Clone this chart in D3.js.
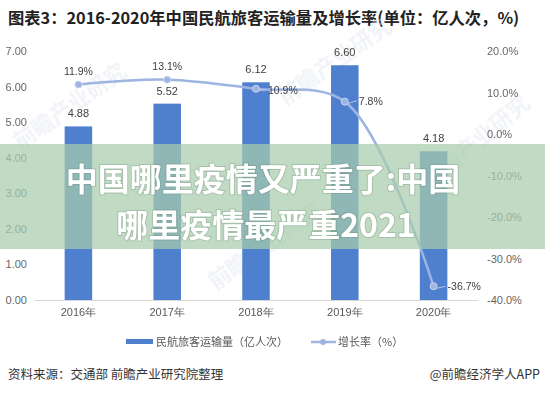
<!DOCTYPE html>
<html>
<head>
<meta charset="utf-8">
<script src="https://cdn.jsdelivr.net/npm/d3@7"></script>
<style>
  body { margin: 0; background: #fff; }
  svg { display: block; font-family: "Noto Sans CJK SC", "Noto Sans", sans-serif; }
</style>
</head>
<body>
<div class="canva"></div>
<script>
const years = ["2016年", "2017年", "2018年", "2019年", "2020年"];
const passengers = [4.88, 5.52, 6.12, 6.60, 4.18];
const growth = [11.9, 13.1, 10.9, 7.8, -36.7];
const leftTicks = [0, 1, 2, 3, 4, 5, 6, 7];
const rightTicks = [-40, -30, -20, -10, 0, 10, 20];

const WIDTH = 545, HEIGHT = 394;
const PLOT = { LEFT: 34, RIGHT: 478, TOP: 51, BOTTOM: 300 };

const svg = d3.select(".canva").append("svg")
    .attr("width", WIDTH)
    .attr("height", HEIGHT);

// title
svg.append("text")
    .attr("x", 8).attr("y", 24)
    .attr("font-size", 16.3).attr("font-weight", "bold")
    .attr("fill", "#222")
    .text("图表3：2016-2020年中国民航旅客运输量及增长率(单位：亿人次，%)");

const x = d3.scaleBand().domain(years).range([PLOT.LEFT, PLOT.RIGHT]).paddingInner(0.69).paddingOuter(0.345);
const yL = d3.scaleLinear().domain([0, 7]).range([PLOT.BOTTOM, PLOT.TOP]);
const yR = d3.scaleLinear().domain([-40, 20]).range([PLOT.BOTTOM, PLOT.TOP]);

// faint watermarks
const wm = svg.append("g").attr("fill", "#dfe5ee").attr("opacity", 0.45)
    .attr("font-size", 22).attr("font-weight", "bold");
[[215, 290, -35], [285, 105, -35], [430, 190, -40], [20, 150, -35]].forEach(d => {
  wm.append("text").attr("transform", `translate(${d[0]},${d[1]}) rotate(${d[2]})`).text("前瞻产业研究");
});

// left axis
const axL = svg.append("g").attr("transform", `translate(${PLOT.LEFT},0)`)
    .call(d3.axisLeft(yL).tickValues(leftTicks).tickFormat(d3.format(".2f")).tickSize(0).tickPadding(7));
axL.select(".domain").remove();
axL.selectAll("text").attr("font-size", 11).attr("fill", "#666").attr("font-family", "Liberation Sans, sans-serif");

// right axis
const axR = svg.append("g").attr("transform", `translate(${PLOT.RIGHT + 9},0)`)
    .call(d3.axisRight(yR).tickValues(rightTicks).tickFormat(d => d.toFixed(1) + "%").tickSize(0).tickPadding(0));
axR.select(".domain").remove();
axR.selectAll("text").attr("font-size", 11).attr("fill", "#666").attr("font-family", "Liberation Sans, sans-serif");

// bars
svg.append("g").selectAll("rect").data(passengers).enter().append("rect")
    .attr("x", (d, i) => x(years[i]))
    .attr("y", d => yL(d))
    .attr("width", x.bandwidth())
    .attr("height", d => yL(0) - yL(d))
    .attr("fill", "#4f80d0");

svg.append("g").selectAll("text").data(passengers).enter().append("text")
    .attr("x", (d, i) => x(years[i]) + x.bandwidth() / 2)
    .attr("y", d => yL(d) - 9)
    .attr("text-anchor", "middle")
    .attr("font-size", 11).attr("fill", "#404040")
    .attr("font-family", "Liberation Sans, sans-serif")
    .text(d => d.toFixed(2));

// baseline
const xAxis = svg.append("g").attr("transform", `translate(0,${PLOT.BOTTOM})`)
    .call(d3.axisBottom(x).tickSize(0).tickPadding(8));
xAxis.select(".domain").attr("stroke", "#d9d9d9");
xAxis.selectAll("text").attr("font-size", 11).attr("fill", "#595959");

// growth line
const cx = i => x(years[i]) + x.bandwidth() / 2;
const line = d3.line().x((d, i) => cx(i)).y(d => yR(d)).curve(d3.curveCatmullRom.alpha(0.5));
svg.append("path").datum(growth)
    .attr("d", line)
    .attr("fill", "none")
    .attr("stroke", "#9db5e0")
    .attr("stroke-width", 2.5);

svg.append("g").selectAll("circle").data(growth).enter().append("circle")
    .attr("cx", (d, i) => cx(i))
    .attr("cy", d => yR(d))
    .attr("r", 3.5)
    .attr("fill", "#9db5e0")
    .attr("stroke", "#c9d6ef").attr("stroke-width", 1);

// growth labels: offsets per point (dx, dy, leader)
const labelPos = [[0, -10, false], [0, -10, false], [12, 5, true], [14, 3, true], [14, 4, true]];
const gl = svg.append("g");
growth.forEach((d, i) => {
  const p = labelPos[i];
  const px = cx(i), py = yR(d);
  if (p[2]) {
    gl.append("line")
      .attr("x1", px + 3).attr("y1", py + (p[1] > 0 ? 2 : 0))
      .attr("x2", px + p[0] - 2).attr("y2", py + p[1] - 4)
      .attr("stroke", "#b4c6e7").attr("stroke-width", 1);
  }
  gl.append("text")
    .attr("x", px + p[0]).attr("y", py + p[1])
    .attr("text-anchor", p[2] ? "start" : "middle")
    .attr("font-size", 10.5).attr("fill", "#404040")
    .attr("font-family", "Liberation Sans, sans-serif")
    .text(d.toFixed(1) + "%");
});

// legend
const lg = svg.append("g").attr("transform", "translate(0,342)");
lg.append("rect").attr("x", 126).attr("y", -3).attr("width", 27).attr("height", 5).attr("fill", "#4f80d0");
lg.append("text").attr("x", 156).attr("y", 4).attr("font-size", 11).attr("fill", "#595959").text("民航旅客运输量（亿人次）");
lg.append("line").attr("x1", 311).attr("x2", 336).attr("y1", 0).attr("y2", 0).attr("stroke", "#9db5e0").attr("stroke-width", 2.5);
lg.append("circle").attr("cx", 323).attr("cy", 0).attr("r", 3).attr("fill", "#9db5e0");
lg.append("text").attr("x", 338).attr("y", 4).attr("font-size", 11).attr("fill", "#595959").text("增长率（%）");

// source
svg.append("text").attr("x", 8).attr("y", 379).attr("font-size", 12.5).attr("fill", "#333")
    .text("资料来源：交通部 前瞻产业研究院整理");
svg.append("text").attr("x", 540).attr("y", 379).attr("text-anchor", "end").attr("font-size", 12.5).attr("fill", "#333")
    .text("@前瞻经济学人APP");

// overlay banner
svg.append("rect").attr("x", 0).attr("y", 144).attr("width", WIDTH).attr("height", 105)
    .attr("fill", "rgb(168,204,172)").attr("opacity", 0.72);

const banner = svg.append("g").attr("fill", "#fff").attr("font-weight", "bold")
    .attr("font-size", 32).attr("text-anchor", "middle")
    .style("paint-order", "stroke").attr("stroke", "rgba(90,120,95,0.25)").attr("stroke-width", 2);
banner.append("text").attr("x", 263).attr("y", 191).text("中国哪里疫情又严重了:中国");
banner.append("text").attr("x", 266).attr("y", 237).text("哪里疫情最严重2021");
</script>
</body>
</html>
